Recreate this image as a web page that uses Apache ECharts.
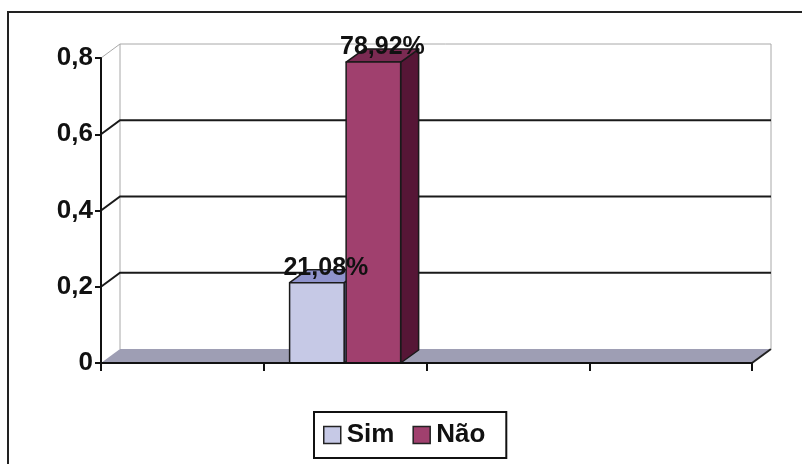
<!DOCTYPE html>
<html>
<head>
<meta charset="utf-8">
<script src="https://cdn.jsdelivr.net/npm/echarts@6/dist/echarts.min.js"></script>
<style>
  html, body { margin: 0; padding: 0; background: #ffffff; }
  #chart { width: 802px; height: 464px; }
</style>
</head>
<body>
<div id="chart"></div>
<script>
// Category slots along the floor (only the second one carries data)
const categories = ['', 'Resposta', '', ''];
const seriesNames = ['Sim', 'Não'];
const simValues = [null, 0.2108, null, null];
const naoValues = [null, 0.7892, null, null];
const yTicks = [0, 0.2, 0.4, 0.6, 0.8];

const FONT = '"Liberation Sans", Arial, sans-serif';
const DX = 19, DY = -14;          // depth of the back wall / floor
const BDX = 18, BDY = -13;        // depth of each bar

const palette = {
  'Sim': { front: '#c6c9e6', top: '#8f93cc', side: '#6c70aa' },
  'Não': { front: '#a0406e', top: '#7b2a52', side: '#561636' }
};

const fmtPct = v => (v * 100).toFixed(2).replace('.', ',') + '%';

// Geometry of one bar's front face from the axis scales
function barRect(api, seriesIdx) {
  const top = api.coord([api.value(0), api.value(1)]);
  const base = api.coord([api.value(0), 0]);
  const band = api.size([1, 0])[0];
  const w = band * 0.335;
  const x = seriesIdx === 0 ? top[0] - 1 - w : top[0] + 1;
  return { x: x, w: w, yTop: top[1], yBase: base[1] };
}

function makeBarSeries(name, values, idx, z) {
  const col = palette[name];
  return {
    name: name,
    type: 'custom',
    z: z,
    itemStyle: { color: col.front },
    data: values.map((v, i) => v == null ? null : [i, v]).filter(d => d),
    renderItem: function (params, api) {
      const r = barRect(api, idx);
      const stroke = { stroke: '#1a1a1a', lineWidth: 1.5, lineJoin: 'round' };
      return {
        type: 'group',
        children: [
          { type: 'polygon', shape: { points: [
              [r.x + r.w, r.yTop], [r.x + r.w + BDX, r.yTop + BDY],
              [r.x + r.w + BDX, r.yBase + BDY], [r.x + r.w, r.yBase]] },
            style: Object.assign({ fill: col.side }, stroke) },
          { type: 'polygon', shape: { points: [
              [r.x, r.yTop], [r.x + BDX, r.yTop + BDY],
              [r.x + r.w + BDX, r.yTop + BDY], [r.x + r.w, r.yTop]] },
            style: Object.assign({ fill: col.top }, stroke) },
          { type: 'rect', shape: { x: r.x, y: r.yTop, width: r.w, height: r.yBase - r.yTop },
            style: Object.assign({ fill: col.front }, stroke) }
        ]
      };
    }
  };
}

// Value labels, drawn above both bars
const labelData = [];
[simValues, naoValues].forEach((vals, s) => {
  vals.forEach((v, i) => { if (v != null) labelData.push([i, v, s]); });
});

const option = {
  animation: false,
  backgroundColor: '#ffffff',
  grid: { left: 101, right: 50, top: 58, bottom: 101 },
  xAxis: {
    type: 'category',
    data: categories,
    z: 10,
    axisLine: { lineStyle: { color: '#111', width: 2 } },
    axisTick: { show: true, length: 8, lineStyle: { color: '#111', width: 2 } },
    axisLabel: { show: false },
    splitLine: { show: false }
  },
  yAxis: {
    type: 'value',
    min: 0, max: 0.8, interval: 0.2,
    z: 10,
    axisLine: { show: true, lineStyle: { color: '#111', width: 2 } },
    axisTick: { show: true, length: 6, lineStyle: { color: '#111', width: 2 } },
    axisLabel: {
      color: '#111', fontFamily: FONT, fontWeight: 'bold', fontSize: 26, margin: 8,
      formatter: v => String(Math.round(v * 10) / 10).replace('.', ',')
    },
    splitLine: { show: false }
  },
  legend: {
    data: seriesNames.map(n => ({ name: n, icon: 'rect',
      itemStyle: { color: palette[n].front, borderColor: '#222', borderWidth: 1.5 } })),
    left: 314, top: 412,
    orient: 'horizontal',
    itemWidth: 17, itemHeight: 17, itemGap: 18,
    padding: [10, 21, 10, 9],
    borderColor: '#111', borderWidth: 2,
    backgroundColor: '#fff',
    textStyle: { color: '#111', fontFamily: FONT, fontWeight: 'bold', fontSize: 26, padding: [0, 0, 0, 1] },
    selectedMode: false
  },
  graphic: [
    { type: 'rect', z: -10, silent: true,
      shape: { x: 8, y: 12, width: 900, height: 600 },
      style: { fill: 'none', stroke: '#222', lineWidth: 2 } }
  ],
  series: [
    {
      // back wall, floor and gridlines
      name: 'frame',
      type: 'custom',
      z: 1,
      silent: true,
      data: [[0, 0]],
      renderItem: function (params, api) {
        const cs = params.coordSys;
        const x0 = cs.x, x1 = cs.x + cs.width;
        const yb = api.coord([0, 0])[1];
        const yt = api.coord([0, 0.8])[1];
        const kids = [];
        // floor
        kids.push({ type: 'polygon', shape: { points: [[x0, yb], [x0 + DX, yb + DY], [x1 + DX, yb + DY], [x1, yb]] },
          style: { fill: '#9e9eb4', stroke: null } });
        kids.push({ type: 'line', shape: { x1: x1, y1: yb, x2: x1 + DX, y2: yb + DY },
          style: { stroke: '#222', lineWidth: 2 } });
        // wall outline
        const thin = { stroke: '#a8a8a8', lineWidth: 1 };
        kids.push({ type: 'line', shape: { x1: x0 + DX, y1: yb + DY, x2: x0 + DX, y2: yt + DY }, style: thin });
        kids.push({ type: 'line', shape: { x1: x1 + DX, y1: yb + DY, x2: x1 + DX, y2: yt + DY }, style: thin });
        // gridlines
        yTicks.forEach(t => {
          if (t === 0) return;
          const y = api.coord([0, t])[1];
          const st = t === 0.8 ? thin : { stroke: '#1a1a1a', lineWidth: 2 };
          kids.push({ type: 'polyline', shape: { points: [[x0, y], [x0 + DX, y + DY], [x1 + DX, y + DY]] }, style: Object.assign({ fill: null }, st) });
        });
        return { type: 'group', children: kids };
      }
    },
    makeBarSeries('Sim', simValues, 0, 3),
    makeBarSeries('Não', naoValues, 1, 4),
    {
      name: 'valores',
      type: 'custom',
      z: 6,
      silent: true,
      data: labelData,
      renderItem: function (params, api) {
        const r = barRect(api, api.value(2));
        return {
          type: 'text',
          style: {
            x: r.x + r.w / 2 + BDX / 2, y: r.yTop - 15,
            text: fmtPct(api.value(1)),
            fill: '#111', font: 'bold 25px ' + FONT,
            align: 'center', verticalAlign: 'middle'
          }
        };
      }
    }
  ]
};

const chart = echarts.init(document.getElementById('chart'), null, { renderer: 'canvas' });
chart.setOption(option);
</script>
</body>
</html>
